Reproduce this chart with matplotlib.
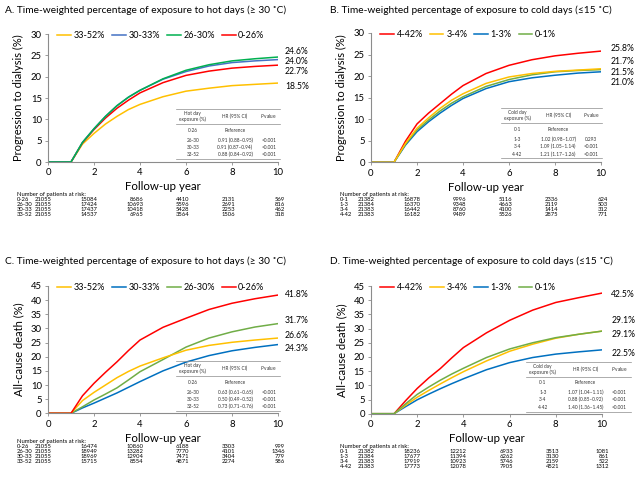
import matplotlib
matplotlib.use("Agg")
import matplotlib.pyplot as plt

plt.rcParams["font.family"] = ["Lato", "DejaVu Sans"]
plt.rcParams["mathtext.fontset"] = "custom"
plt.rcParams["mathtext.rm"] = "Lato"
plt.rcParams["mathtext.it"] = "Lato:italic"

YEARS = [0, 1, 1.5, 2, 2.5, 3, 3.5, 4, 5, 6, 7, 8, 9, 10]
RISK_YEARS = [0, 2, 4, 6, 8, 10]

# A: dialysis by hot day exposure
hot_groups = ["0-26", "26-30", "30-33", "33-52"]
a_red = [0, 0, 4.5, 7.6, 10.3, 12.6, 14.5, 16.2, 18.6, 20.3, 21.3, 22.0, 22.4, 22.7]
a_blue = [0, 0, 4.6, 7.8, 10.7, 13.2, 15.2, 16.8, 19.4, 21.2, 22.5, 23.3, 23.7, 24.0]
a_green = [0, 0, 4.6, 7.8, 10.7, 13.2, 15.2, 16.8, 19.5, 21.5, 22.8, 23.7, 24.2, 24.6]
a_yellow = [0, 0, 4.2, 6.7, 8.9, 10.7, 12.3, 13.5, 15.3, 16.6, 17.3, 17.9, 18.2, 18.5]
a_risk = [[21055, 15084, 8686, 4410, 2131, 569],
          [21055, 17424, 10693, 5596, 2691, 816],
          [21055, 17437, 10418, 5428, 2253, 462],
          [21055, 14537, 6965, 3564, 1506, 318]]
a_hr = [["0-26", "Reference", ""],
        ["26-30", "0.91 (0.88\u20130.95)", "<0.001"],
        ["30-33", "0.91 (0.87\u20130.94)", "<0.001"],
        ["33-52", "0.88 (0.84\u20130.92)", "<0.001"]]

# B: dialysis by cold day exposure
cold_groups = ["0-1", "1-3", "3-4", "4-42"]
b_red = [0, 0, 4.9, 8.9, 11.4, 13.6, 15.8, 17.8, 20.6, 22.5, 23.8, 24.7, 25.3, 25.8]
b_yellow = [0, 0, 4.4, 7.9, 10.3, 12.5, 14.4, 15.9, 18.3, 19.8, 20.6, 21.1, 21.4, 21.7]
b_green = [0, 0, 4.2, 7.5, 9.8, 11.9, 13.7, 15.2, 17.6, 19.2, 20.3, 21.0, 21.3, 21.5]
b_blue = [0, 0, 4.0, 7.1, 9.4, 11.4, 13.2, 14.8, 17.1, 18.7, 19.6, 20.2, 20.7, 21.0]
b_risk = [[21382, 16878, 9996, 5116, 2336, 624],
          [21384, 16370, 9348, 4663, 2119, 503],
          [21383, 16442, 8760, 4100, 1414, 312],
          [21383, 16182, 9489, 5526, 2875, 771]]
b_hr = [["0-1", "Reference", ""],
        ["1-3", "1.02 (0.98\u20131.07)", "0.293"],
        ["3-4", "1.09 (1.05\u20131.14)", "<0.001"],
        ["4-42", "1.21 (1.17\u20131.26)", "<0.001"]]

# C: death by hot day exposure
c_red = [0, 0, 6.2, 10.6, 14.5, 18.2, 22.2, 25.9, 30.4, 33.6, 36.7, 38.9, 40.5, 41.8]
c_yellow = [0, 0, 4.5, 7.4, 10.0, 12.6, 14.8, 16.7, 19.6, 22.3, 24.0, 25.1, 25.9, 26.6]
c_green = [0, 0, 2.3, 4.7, 6.8, 9.0, 11.8, 14.7, 19.0, 23.4, 26.6, 28.8, 30.5, 31.7]
c_blue = [0, 0, 1.9, 3.6, 5.4, 7.2, 9.2, 11.2, 15.0, 18.1, 20.4, 22.1, 23.3, 24.3]
c_risk = [[21055, 16474, 10860, 6188, 3303, 999],
          [21055, 18949, 13282, 7770, 4101, 1346],
          [21055, 18969, 12904, 7471, 3404, 779],
          [21055, 15715, 8554, 4871, 2274, 586]]
c_hr = [["0-26", "Reference", ""],
        ["26-30", "0.63 (0.61\u20130.65)", "<0.001"],
        ["30-33", "0.50 (0.49\u20130.52)", "<0.001"],
        ["33-52", "0.73 (0.71\u20130.76)", "<0.001"]]

# D: death by cold day exposure
d_red = [0, 0, 4.6, 8.9, 12.6, 15.9, 19.7, 23.3, 28.5, 32.9, 36.5, 39.2, 40.9, 42.5]
d_yellow = [0, 0, 3.0, 5.8, 8.2, 10.5, 12.7, 14.8, 18.6, 22.0, 24.5, 26.6, 28.0, 29.1]
d_blue = [0, 0, 2.5, 4.9, 6.9, 8.8, 10.6, 12.3, 15.5, 18.0, 19.8, 21.0, 21.8, 22.5]
d_green = [0, 0, 3.5, 6.8, 9.4, 11.8, 14.0, 16.0, 19.8, 22.8, 25.0, 26.8, 28.0, 29.1]
d_risk = [[21382, 18236, 12212, 6933, 3513, 1081],
          [21384, 17677, 11394, 6262, 3130, 861],
          [21383, 17919, 10923, 5746, 2159, 522],
          [21383, 17773, 12078, 7905, 4521, 1312]]
d_hr = [["0-1", "Reference", ""],
        ["1-3", "1.07 (1.04\u20131.11)", "<0.001"],
        ["3-4", "0.88 (0.85\u20130.92)", "<0.001"],
        ["4-42", "1.40 (1.36\u20131.45)", "<0.001"]]

RED = "#FF0000"
YELLOW = "#FFC000"
BLUE_A = "#4472C4"
BLUE = "#0070C0"
GREEN_A = "#00B050"
GREEN = "#70AD47"
AXIS_GRAY = "#8C8C8C"

W, H = 636, 479


def make_axes(fig, left, right, top, bottom):
    return fig.add_axes([left / W, 1 - bottom / H, (right - left) / W, (bottom - top) / H])


def style_axes(ax, ymax, ylabel):
    ax.set_xlim(0, 10)
    ax.set_ylim(0, ymax)
    ax.set_xticks(RISK_YEARS)
    ax.set_yticks(range(0, ymax + 1, 5))
    for s in ["top", "right"]:
        ax.spines[s].set_visible(False)
    for s in ["left", "bottom"]:
        ax.spines[s].set_color(AXIS_GRAY)
        ax.spines[s].set_linewidth(0.8)
    ax.tick_params(direction="out", length=2, width=0.6, color=AXIS_GRAY, labelsize=6.8, pad=2.5)
    ax.set_ylabel(ylabel, fontsize=8, labelpad=5)
    ax.set_xlabel("Follow-up year", fontsize=8.3, labelpad=3)


def hr_table(ax, x0, x1, top, header1, rows):
    w = x1 - x0
    cx = [x0 + 0.16 * w, x0 + 0.565 * w, x0 + 0.89 * w]
    kw = dict(transform=ax.transAxes, ha="center", va="center", fontsize=3.4, color="#333333")
    ax.plot([x0, x1], [top, top], transform=ax.transAxes, color=AXIS_GRAY, lw=0.5, clip_on=False)
    ax.plot([x0, x1], [top - 0.118, top - 0.118], transform=ax.transAxes, color=AXIS_GRAY, lw=0.5, clip_on=False)
    ax.plot([x0, x1], [top - 0.39, top - 0.39], transform=ax.transAxes, color=AXIS_GRAY, lw=0.5, clip_on=False)
    ax.text(cx[0], top - 0.058, header1 + "\nexposure (%)", linespacing=1.1, **kw)
    ax.text(cx[1], top - 0.058, "HR (95% CI)", **kw)
    ax.text(cx[2], top - 0.058, r"$\it{P}$ value", **kw)
    ys = [top - 0.165, top - 0.243, top - 0.298, top - 0.358]
    for y, row in zip(ys, rows):
        for c, txt in zip(cx, row):
            if txt:
                ax.text(c, y, txt, **kw)


def risk_table(ax, y_first, groups, risk):
    tr = ax.get_xaxis_transform()
    ax.text(-1.35, y_first, "Number of patients at risk:", transform=tr, fontsize=4.2,
            ha="left", va="center", clip_on=False)
    step = 5.0 / (ax.get_position().height * H)
    for i, (g, vals) in enumerate(zip(groups, risk)):
        y = y_first - step * (i + 1)
        ax.text(-1.35, y, g, transform=tr, fontsize=4.2, ha="left", va="center")
        for j, (yr, v) in enumerate(zip(RISK_YEARS, vals)):
            off = 0.3 if j == len(vals) - 1 else 0.15
            ax.text(yr + off, y, str(v), transform=tr, fontsize=4.2, ha="right", va="center")


def end_labels(ax, x, labels):
    for txt, y in labels:
        ax.text(x, y, txt, fontsize=6.2, ha="left", va="center", clip_on=False)


def add_legend(ax, handles, labels):
    ax.legend(handles, labels, loc="center left", bbox_to_anchor=(0.04, 0.985), ncol=4,
              frameon=False, fontsize=6.5, handlelength=1.5, handletextpad=0.3,
              columnspacing=0.8, borderaxespad=0, borderpad=0)


def main():
    fig = plt.figure(figsize=(W / 100, H / 100), dpi=100)
    lw = 1.1
    tsize = 7.3

    # panel A
    ax = make_axes(fig, 48, 278, 34, 162)
    style_axes(ax, 30, "Progression to dialysis (%)")
    h1, = ax.plot(YEARS, a_yellow, color=YELLOW, lw=lw)
    h4, = ax.plot(YEARS, a_red, color=RED, lw=lw)
    h2, = ax.plot(YEARS, a_blue, color=BLUE_A, lw=lw)
    h3, = ax.plot(YEARS, a_green, color=GREEN_A, lw=lw)
    add_legend(ax, [h1, h2, h3, h4], ["33-52%", "30-33%", "26-30%", "0-26%"])
    end_labels(ax, 10.3, [("24.6%", 25.8), ("24.0%", 23.5), ("22.7%", 21.3), ("18.5%", 17.8)])
    hr_table(ax, 0.557, 1.01, 0.414, "Hot day", a_hr)
    risk_table(ax, -0.252, hot_groups, a_risk)
    fig.text(5 / W, 1 - 10 / H, "A. Time-weighted percentage of exposure to hot days (\u2265 30 \u02daC)",
             fontsize=tsize, ha="left", va="center")

    # panel B
    ax = make_axes(fig, 371, 601, 33, 162.3)
    style_axes(ax, 30, "Progression to dialysis (%)")
    h4, = ax.plot(YEARS, b_red, color=RED, lw=lw)
    h2, = ax.plot(YEARS, b_blue, color=BLUE, lw=lw)
    h1, = ax.plot(YEARS, b_green, color=GREEN, lw=lw)
    h3, = ax.plot(YEARS, b_yellow, color=YELLOW, lw=lw)
    add_legend(ax, [h4, h3, h2, h1], ["4-42%", "3-4%", "1-3%", "0-1%"])
    end_labels(ax, 10.43, [("25.8%", 26.3), ("21.7%", 23.5), ("21.5%", 20.8), ("21.0%", 18.4)])
    hr_table(ax, 0.565, 1.005, 0.42, "Cold day", b_hr)
    risk_table(ax, -0.248, cold_groups, b_risk)
    fig.text(330 / W, 1 - 10 / H, "B. Time-weighted percentage of exposure to cold days (\u226415 \u02daC)",
             fontsize=tsize, ha="left", va="center")

    # panel C
    ax = make_axes(fig, 48, 278, 286, 413.3)
    style_axes(ax, 45, "All-cause death (%)")
    h2, = ax.plot(YEARS, c_blue, color=BLUE, lw=lw)
    h3, = ax.plot(YEARS, c_green, color=GREEN, lw=lw)
    h1, = ax.plot(YEARS, c_yellow, color=YELLOW, lw=lw)
    h4, = ax.plot(YEARS, c_red, color=RED, lw=lw)
    add_legend(ax, [h1, h2, h3, h4], ["33-52%", "30-33%", "26-30%", "0-26%"])
    end_labels(ax, 10.3, [("41.8%", 42.0), ("31.7%", 32.7), ("26.6%", 27.4), ("24.3%", 22.8)])
    hr_table(ax, 0.557, 1.01, 0.41, "Hot day", c_hr)
    risk_table(ax, -0.218, hot_groups, c_risk)
    fig.text(5 / W, 1 - 261 / H, "C. Time-weighted percentage of exposure to hot days (\u2265 30 \u02daC)",
             fontsize=tsize, ha="left", va="center")

    # panel D
    ax = make_axes(fig, 371, 602, 286, 413.7)
    style_axes(ax, 45, "All-cause death (%)")
    h4, = ax.plot(YEARS, d_red, color=RED, lw=lw)
    h2, = ax.plot(YEARS, d_blue, color=BLUE, lw=lw)
    h3, = ax.plot(YEARS, d_yellow, color=YELLOW, lw=lw)
    h1, = ax.plot(YEARS, d_green, color=GREEN, lw=lw)
    add_legend(ax, [h4, h3, h2, h1], ["4-42%", "3-4%", "1-3%", "0-1%"])
    end_labels(ax, 10.4, [("42.5%", 42.0), ("29.1%", 32.7), ("29.1%", 28.0), ("22.5%", 21.2)])
    hr_table(ax, 0.671, 1.125, 0.407, "Cold day", d_hr)
    risk_table(ax, -0.26, cold_groups, d_risk)
    fig.text(330 / W, 1 - 261 / H, "D. Time-weighted percentage of exposure to cold days (\u226415 \u02daC)",
             fontsize=tsize, ha="left", va="center")

    fig.savefig("out.png", dpi=100)


if __name__ == "__main__":
    main()
